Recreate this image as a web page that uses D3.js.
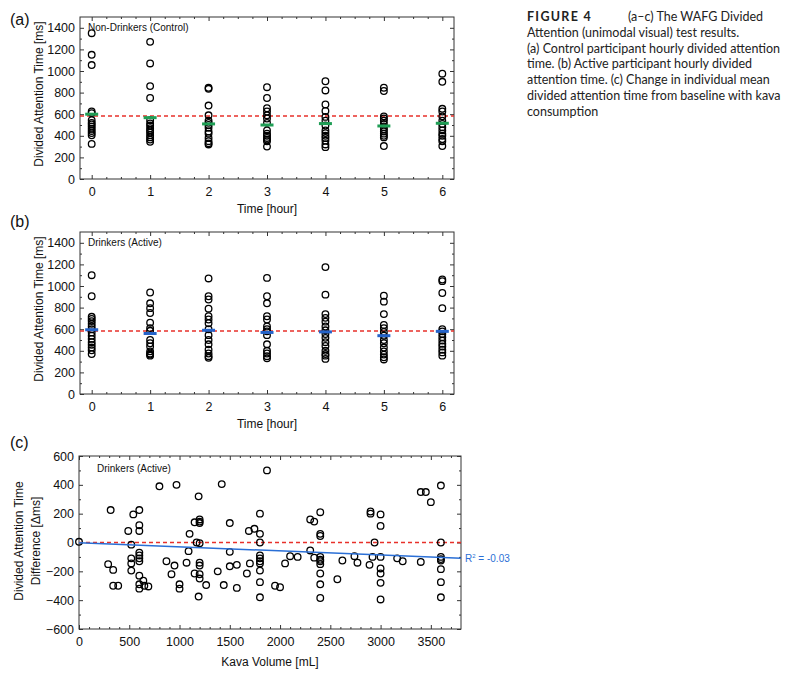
<!DOCTYPE html>
<html><head><meta charset="utf-8">
<script src="https://cdn.jsdelivr.net/npm/d3@7"></script>
<style>body{margin:0;background:#fff}svg{display:block}</style>
</head><body><svg id="chart" width="794" height="680"></svg>
<script>
// ---------- DATA ----------
const hours = [0, 1, 2, 3, 4, 5, 6];
const controlTimes = [
  [1350, 1150, 1055, 625, 610, 545, 520, 505, 485, 465, 445, 425, 405, 325],
  [1270, 1070, 860, 750, 545, 515, 495, 470, 450, 430, 405, 385, 365, 345],
  [845, 835, 680, 590, 540, 520, 500, 475, 440, 420, 380, 350, 330, 320],
  [850, 750, 655, 625, 590, 560, 520, 450, 420, 400, 380, 365, 350, 300],
  [905, 820, 690, 630, 575, 540, 495, 450, 425, 400, 380, 355, 320, 295],
  [845, 815, 580, 560, 540, 510, 480, 460, 440, 420, 400, 385, 305],
  [975, 900, 650, 625, 580, 540, 510, 480, 450, 420, 400, 370, 350, 305]
];
const controlMeans = [600, 568, 510, 500, 513, 491, 516];
const activeTimes = [
  [1100, 905, 715, 695, 675, 650, 625, 600, 570, 540, 510, 480, 455, 430, 405, 370],
  [940, 840, 795, 750, 660, 610, 585, 500, 470, 440, 395, 375, 365, 355],
  [1070, 905, 875, 790, 720, 690, 655, 600, 545, 500, 460, 410, 375, 350, 335],
  [1075, 905, 840, 720, 690, 625, 600, 580, 545, 460, 400, 375, 350, 330],
  [1175, 920, 740, 705, 670, 625, 590, 555, 520, 480, 445, 400, 370, 355, 325],
  [910, 855, 740, 640, 610, 575, 540, 500, 470, 430, 395, 365, 340, 320],
  [1060, 1045, 935, 795, 600, 580, 555, 525, 495, 465, 440, 410, 385, 355]
];
const activeMeans = [595, 560, 590, 570, 575, 540, 580];
const baselineTime = 583;
const timeTicks = [0, 200, 400, 600, 800, 1000, 1200, 1400];

const kavaVolume = [0, 290, 315, 340, 340, 390, 490, 520, 520, 520, 520, 540,
  600, 600, 600, 600, 600, 600, 600, 600, 600, 600, 640, 650, 690,
  800, 870, 920, 950, 970, 1000, 1000, 1070, 1100, 1090, 1150, 1150, 1170,
  1190, 1200, 1200, 1200, 1200, 1200, 1200, 1200, 1200, 1190, 1265, 1380,
  1420, 1440, 1500, 1500, 1500, 1570, 1570, 1670, 1690, 1700, 1745,
  1800, 1800, 1800, 1800, 1800, 1800, 1800, 1800, 1800, 1800,
  1870, 1950, 2000, 2050, 2100, 2175, 2300, 2300, 2340, 2340,
  2400, 2400, 2400, 2400, 2400, 2400, 2400, 2400, 2400, 2400,
  2570, 2620, 2740, 2770, 2900, 2900, 2890, 2920, 2940,
  3000, 3000, 3000, 3000, 3000, 3000, 3000, 3165, 3220, 3400, 3450, 3500, 3400,
  3600, 3600, 3600, 3600, 3600, 3600, 3600, 3600];
const kavaDiff = [5, -150, 225, -190, -300, -300, 80, -15, -110, -145, -195, 195,
  225, 120, 80, -70, -90, -110, -130, -230, -290, -320, -265, -300, -305,
  390, -130, -220, -160, 400, -290, -320, -140, 60, -60, -215, 140, 0,
  320, 160, 145, 135, -5, -140, -160, -220, -250, -375, -295, -200,
  405, -295, 135, -65, -165, -155, -315, -215, 80, -145, 95,
  200, 60, 0, -90, -110, -130, -145, -195, -275, -380,
  500, -300, -310, -145, -95, -100, 160, -55, 145, -105,
  210, 60, 45, -100, -120, -150, -215, -290, -385, -130,
  -255, -125, -95, -140, 215, 200, -155, -100, 0,
  195, 115, -100, -180, -215, -280, -395, -110, -130, 350, 350, 280, -135,
  395, 0, -100, -115, -125, -185, -275, -380];
const regIntercept = -2, regSlope = -0.028;
const diffTicks = [-600, -400, -200, 0, 200, 400, 600];
const volumeTicks = [0, 500, 1000, 1500, 2000, 2500, 3000, 3500];

const captionLines = [
  "Attention (unimodal visual) test results.",
  "(a) Control participant hourly divided attention",
  "time. (b) Active participant hourly divided",
  "attention time. (c) Change in individual mean",
  "divided attention time from baseline with kava",
  "consumption"
];

// ---------- DRAW ----------
const svg = d3.select("#chart");
const FONT = "Liberation Sans, Arial, sans-serif";
const frameColor = "#333";

function frameAxes(g, x, y, xMaj, xMin, yMaj, yMin, xFmt) {
  const [x0, x1] = x.range(), [y0, y1] = y.range();
  g.append("g").attr("transform", `translate(0,${y0})`)
    .call(d3.axisBottom(x).tickValues(xMin).tickSize(-2).tickFormat("").tickSizeOuter(0));
  g.append("g").attr("transform", `translate(0,${y0})`)
    .call(d3.axisBottom(x).tickValues(xMaj).tickSize(-4).tickPadding(8).tickFormat(xFmt || d3.format("d")).tickSizeOuter(0));
  g.append("g").attr("transform", `translate(0,${y1})`)
    .call(d3.axisTop(x).tickValues(xMin).tickSize(-2).tickFormat("").tickSizeOuter(0));
  g.append("g").attr("transform", `translate(0,${y1})`)
    .call(d3.axisTop(x).tickValues(xMaj).tickSize(-4).tickFormat("").tickSizeOuter(0));
  g.append("g").attr("transform", `translate(${x0},0)`)
    .call(d3.axisLeft(y).tickValues(yMin).tickSize(-2).tickFormat("").tickSizeOuter(0));
  g.append("g").attr("transform", `translate(${x0},0)`)
    .call(d3.axisLeft(y).tickValues(yMaj).tickSize(-4).tickPadding(5).tickFormat(d3.format("d")).tickSizeOuter(0));
  g.append("g").attr("transform", `translate(${x1},0)`)
    .call(d3.axisRight(y).tickValues(yMin).tickSize(-2).tickFormat("").tickSizeOuter(0));
  g.append("g").attr("transform", `translate(${x1},0)`)
    .call(d3.axisRight(y).tickValues(yMaj).tickSize(-4).tickFormat("").tickSizeOuter(0));
  g.selectAll(".domain").remove();
  g.selectAll(".tick line").attr("stroke", frameColor);
  g.selectAll(".tick text").attr("font-family", FONT).attr("font-size", 12.5).attr("fill", "#111");
  g.append("rect").attr("x", x0).attr("y", y1).attr("width", x1 - x0).attr("height", y0 - y1)
    .attr("fill", "none").attr("stroke", frameColor).attr("stroke-width", 1);
}

function hourPanel(top, bottom, data, means, meanColor, label, panelLetter, letterY) {
  const g = svg.append("g");
  const x = d3.scaleLinear().domain([-0.2, 6.2]).range([80, 454]);
  const y = d3.scaleLinear().domain([0, 1500]).range([bottom, top]);
  const xMinor = d3.range(0, 6.01, 0.25).filter(v => !hours.includes(v));
  const yMinor = d3.range(100, 1500, 200);
  frameAxes(g, x, y, hours, xMinor, timeTicks, yMinor);
  g.append("line").attr("x1", x.range()[0]).attr("x2", x.range()[1])
    .attr("y1", y(baselineTime)).attr("y2", y(baselineTime))
    .attr("stroke", "#e8302a").attr("stroke-width", 1.4).attr("stroke-dasharray", "4,3");
  data.forEach((vals, i) => {
    g.selectAll(null).data(vals).enter().append("circle")
      .attr("cx", x(hours[i])).attr("cy", d => y(d)).attr("r", 3.3)
      .attr("fill", "none").attr("stroke", "#000").attr("stroke-width", 1.3);
  });
  g.selectAll(null).data(means).enter().append("line")
    .attr("x1", (d, i) => x(hours[i]) - 6.5).attr("x2", (d, i) => x(hours[i]) + 6.5)
    .attr("y1", d => y(d)).attr("y2", d => y(d))
    .attr("stroke", meanColor).attr("stroke-width", 3);
  g.append("text").attr("x", x(-0.2) + 8).attr("y", top + 14).text(label)
    .attr("font-family", FONT).attr("font-size", 10).attr("fill", "#111");
  g.append("text").attr("x", (80 + 454) / 2).attr("y", bottom + 34).text("Time [hour]")
    .attr("text-anchor", "middle").attr("font-family", FONT).attr("font-size", 12).attr("fill", "#111");
  g.append("text").attr("transform", `translate(42.5,${(top + bottom) / 2 - 4}) rotate(-90)`)
    .text("Divided Attention Time [ms]").attr("text-anchor", "middle")
    .attr("font-family", FONT).attr("font-size", 12).attr("fill", "#111");
  svg.append("text").attr("x", 10).attr("y", letterY).text(panelLetter)
    .attr("font-family", FONT).attr("font-size", 16).attr("fill", "#111");
}

hourPanel(17, 179, controlTimes, controlMeans, "#1f9e55", "Non-Drinkers (Control)", "(a)", 25);
hourPanel(232, 394, activeTimes, activeMeans, "#2563c9", "Drinkers (Active)", "(b)", 227);

(function () {
  const g = svg.append("g");
  const x = d3.scaleLinear().domain([0, 3800]).range([79, 461]);
  const y = d3.scaleLinear().domain([-600, 600]).range([629, 456]);
  const xMinor = d3.range(100, 3800, 100).filter(v => v % 500 !== 0);
  const yMinor = d3.range(-500, 600, 200);
  frameAxes(g, x, y, volumeTicks, xMinor, diffTicks, yMinor);
  g.append("line").attr("x1", x(0)).attr("x2", x(3800)).attr("y1", y(0)).attr("y2", y(0))
    .attr("stroke", "#e8302a").attr("stroke-width", 1.4).attr("stroke-dasharray", "4,3");
  g.selectAll(null).data(kavaVolume).enter().append("circle")
    .attr("cx", d => x(d)).attr("cy", (d, i) => y(kavaDiff[i])).attr("r", 3.3)
    .attr("fill", "none").attr("stroke", "#000").attr("stroke-width", 1.3);
  g.append("line").attr("x1", x(0)).attr("x2", x(3800))
    .attr("y1", y(regIntercept)).attr("y2", y(regIntercept + regSlope * 3800))
    .attr("stroke", "#2a6fd6").attr("stroke-width", 1.5);
  const r2 = g.append("text").attr("x", x(3800) + 4).attr("y", y(regIntercept + regSlope * 3800) + 4)
    .attr("font-family", FONT).attr("font-size", 10).attr("fill", "#2a6fd6");
  r2.append("tspan").text("R");
  r2.append("tspan").text("2").attr("font-size", 6).attr("dy", -4);
  r2.append("tspan").text(" = -0.03").attr("dy", 4);
  g.append("text").attr("x", x(0) + 18).attr("y", 472).text("Drinkers (Active)")
    .attr("font-family", FONT).attr("font-size", 10).attr("fill", "#111");
  g.append("text").attr("x", 270).attr("y", 666).text("Kava Volume [mL]")
    .attr("text-anchor", "middle").attr("font-family", FONT).attr("font-size", 12).attr("fill", "#111");
  g.append("text").attr("transform", `translate(23,541) rotate(-90)`).text("Divided Attention Time")
    .attr("text-anchor", "middle").attr("font-family", FONT).attr("font-size", 12).attr("fill", "#111");
  g.append("text").attr("transform", `translate(40,541) rotate(-90)`).text("Difference [\u0394ms]")
    .attr("text-anchor", "middle").attr("font-family", FONT).attr("font-size", 12).attr("fill", "#111");
  svg.append("text").attr("x", 10).attr("y", 448).text("(c)")
    .attr("font-family", FONT).attr("font-size", 16).attr("fill", "#111");
})();

(function () {
  const CF = "Lato, 'Open Sans', sans-serif";
  const t = svg.append("text").attr("x", 527).attr("y", 21).attr("font-family", CF)
    .attr("font-size", 12.5).attr("fill", "#222");
  t.append("tspan").text("FIGURE 4").attr("font-weight", "bold").attr("letter-spacing", 1.3);
  t.append("tspan").attr("x", 628).text("(a\u2013c) The WAFG Divided");
  captionLines.forEach((line, i) => {
    svg.append("text").attr("x", 527).attr("y", 37 + i * 15.7).text(line)
      .attr("font-family", CF).attr("font-size", 12.5).attr("fill", "#222");
  });
})();
</script></body></html>
